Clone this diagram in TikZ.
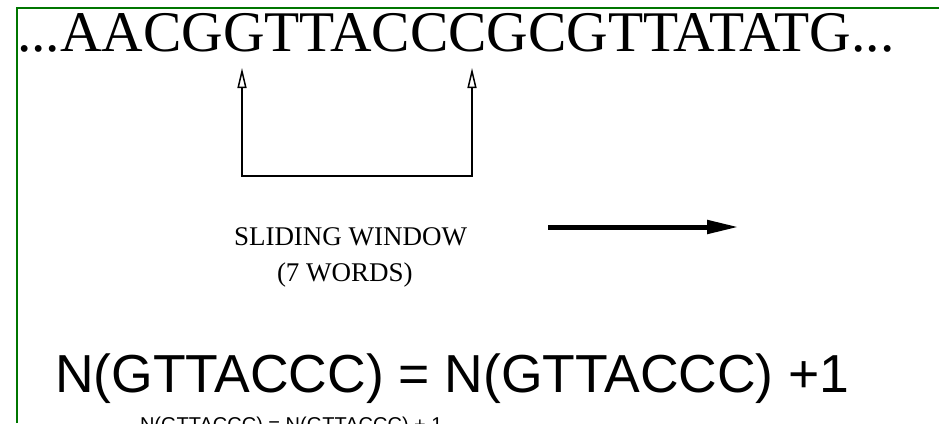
\documentclass[tikz,border=0pt]{standalone}
\usepackage{fontspec}
\setmainfont{Liberation Serif}
\newfontfamily\arialfont{Liberation Sans}
\usetikzlibrary{arrows.meta}
\definecolor{frameGreen}{RGB}{0,118,0}
\begin{document}
\begin{tikzpicture}[x=1pt,y=-1pt,
  txt/.style={inner sep=0pt,outer sep=0pt,anchor=base west},
  bracketline/.style={line width=1.5pt,
    {Triangle[open,length=20pt,width=9pt]}-{Triangle[open,length=20pt,width=9pt]}},
  movearrow/.style={line width=5pt,
    -{Triangle[length=32pt,width=13pt]}}]
  \useasboundingbox (0,0) rectangle (939,423);
  \clip (0,0) rectangle (939,423);
  \fill[white] (0,0) rectangle (939,423);

  % frame on the top and left sides
  \draw[frameGreen,line width=2pt] (17,423) -- (17,8) -- (939,8);

  % the sequence
  \node[txt,font=\fontsize{57.5}{62}\selectfont] (seq) at (17,51)
    {...AACGGTTACCCGCGTTATATG...};

  % window bracket under the sequence
  \coordinate (lt) at (242,68);
  \coordinate (lb) at (242,176);
  \coordinate (rb) at (472,176);
  \coordinate (rt) at (472,68);
  \draw[bracketline] (lt) -- (lb) -- (rb) -- (rt);

  % window label
  \node[txt,font=\fontsize{27}{30}\selectfont] (lab1) at (234,245) {SLIDING WINDOW};
  \node[txt,font=\fontsize{27}{30}\selectfont] (lab2) at (277,281) {(7 WORDS)};

  % direction of motion
  \coordinate (wstart) at (548,227);
  \coordinate (wend) at (739,227);
  \draw[movearrow] (wstart) -- (wend);

  % counting rule
  \node[txt,font=\arialfont\fontsize{53.5}{58}\selectfont] (eq) at (55,392)
    {N(GTTACCC) = N(GTTACCC) +1};
  \node[txt,font=\arialfont\fontsize{20}{22}\selectfont] (eqsmall) at (140,431)
    {N(GTTACCC) = N(GTTACCC) + 1};
\end{tikzpicture}
\end{document}
